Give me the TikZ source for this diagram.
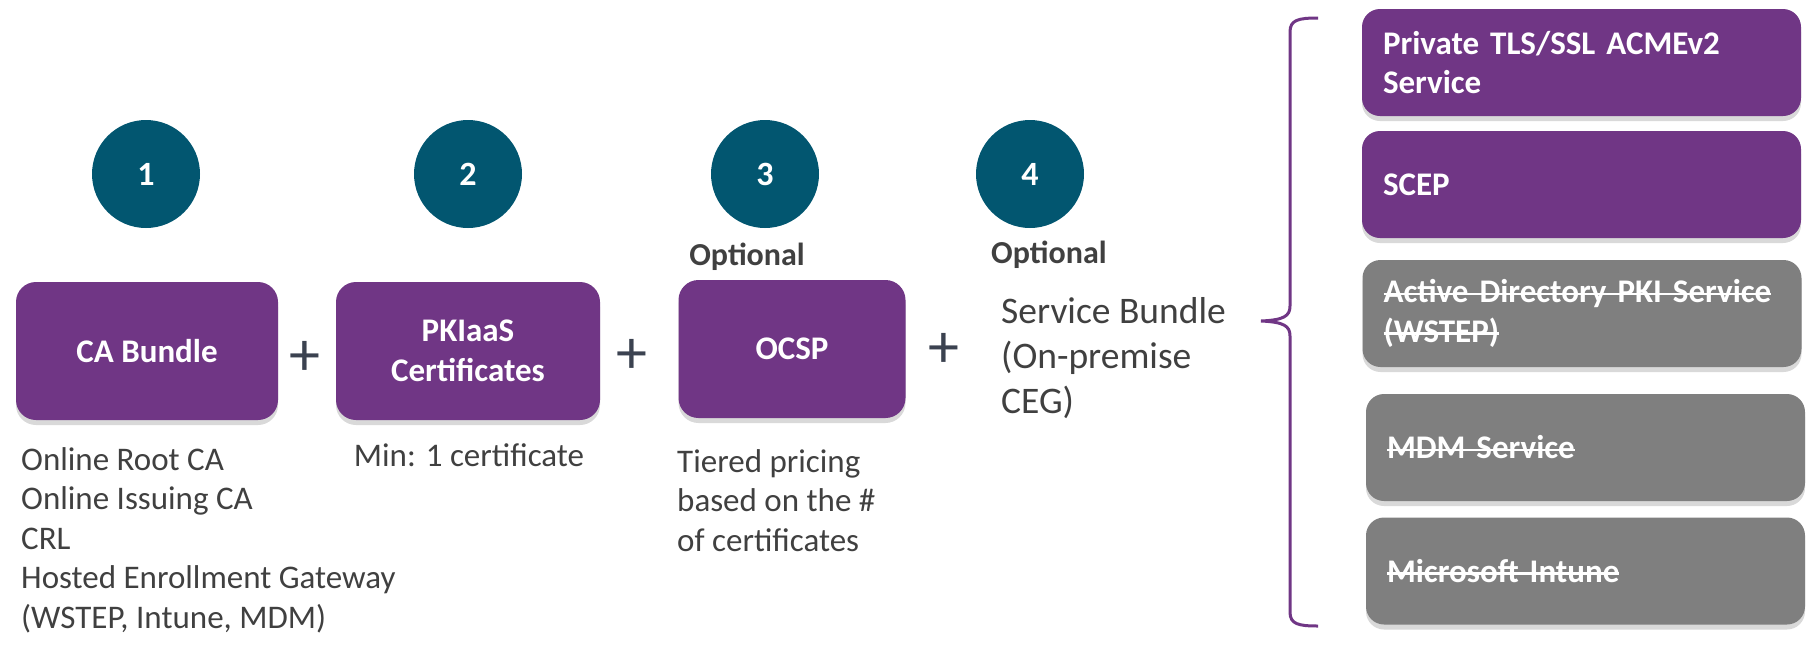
\documentclass[tikz,border=0pt]{standalone}
\usepackage{fontspec}
\setmainfont{Carlito}
\usetikzlibrary{shadows}
\newsavebox{\strkbox}
\newcommand{\strk}[1]{\sbox{\strkbox}{#1}\makebox[0pt][l]{\usebox{\strkbox}}\rule[0.23em]{\wd\strkbox}{2.4pt}}
\definecolor{cpurple}{HTML}{703685}
\definecolor{cteal}{HTML}{025670}
\definecolor{cgray}{HTML}{7F7F7F}
\definecolor{ctext}{HTML}{404040}
\definecolor{cplus}{HTML}{3B4250}
\begin{document}
\begin{tikzpicture}[x=1pt,y=-1pt,
  num/.style={circle, fill=cteal, minimum size=108pt, inner sep=0pt, text=white,
    font=\bfseries\fontsize{34}{40}\selectfont},
  shadowed/.style={drop shadow={shadow xshift=0pt,shadow yshift=-5pt,opacity=0.3}},
  pbox/.style={shadowed, fill=cpurple, rounded corners=20pt, inner sep=0pt, text=white,
    align=center, minimum height=138pt, font=\bfseries\fontsize{33}{39.5}\selectfont},
  rbox/.style={shadowed, rounded corners=18pt, inner xsep=21pt, inner ysep=0pt,
    minimum height=107pt, text width=397pt, align=left, text=white,
    font=\bfseries\fontsize{33}{39.5}\selectfont},
  rpurple/.style={rbox, fill=cpurple},
  rgray/.style={rbox, fill=cgray},
  desc/.style={text=ctext, font=\fontsize{33}{39.5}\selectfont, inner sep=0pt, align=left},
  bigdesc/.style={text=ctext, font=\fontsize{37.5}{45}\selectfont, inner sep=0pt, align=left},
  opt/.style={text=ctext, font=\bfseries\fontsize{32}{38}\selectfont, inner sep=0pt},
  plussign/.style={text=cplus, font=\fontsize{62}{62}\selectfont, inner sep=0pt},
  bracestyle/.style={draw=cpurple, line width=3pt}
]
\useasboundingbox (0,0) rectangle (1816,657);

% numbered circles
\node[num] (n1) at (146,174) {1};
\node[num] (n2) at (468,174) {2};
\node[num] (n3) at (765,174) {3};
\node[num] (n4) at (1030,174) {4};

% optional labels
\node[opt, anchor=base] (opt3) at (747,265) {Optional};
\node[opt, anchor=base west] (opt4) at (991,263) {Optional};

% main boxes
\node[pbox, minimum width=262pt] (ca) at (147,351) {CA Bundle};
\node[pbox, minimum width=264pt] (pki) at (468,351) {PKIaaS\\Certificates};
\node[pbox, minimum width=227pt] (ocsp) at (792,349) {OCSP};

% plus signs
\node[plussign] (p1) at (305,358) {+};
\node[plussign] (p2) at (632,356) {+};
\node[plussign] (p3) at (944,350) {+};

% descriptions
\node[desc, anchor=north west] (d1) at (21,447)
  {Online Root CA\\Online Issuing CA\\CRL\\Hosted Enrollment Gateway\\(WSTEP, Intune, MDM)};
\node[desc, anchor=north] (d2) at (469,443) {Min: 1 certificate};
\node[desc, anchor=north west] (d3) at (677,449) {Tiered pricing\\based on the \#\\of certificates};
\node[bigdesc, anchor=north west] (sb) at (1001,297) {Service Bundle\\(On-premise\\CEG)};

% brace
\draw[bracestyle] (1318,18) .. controls (1298,18) and (1290,20) .. (1290,32)
  -- (1290,306) .. controls (1290,316) and (1284,320) .. (1261,321)
  .. controls (1284,322) and (1290,326) .. (1290,336)
  -- (1290,612) .. controls (1290,624) and (1298,626) .. (1318,626);

% right column
\node[rpurple] (acme) at (1581.5,62.5) {Private TLS/SSL ACMEv2\\Service};
\node[rpurple] (scep) at (1581.5,184.5) {SCEP};
\node[rgray] (adpki) at (1582,313.5) {\strk{Active Directory PKI Service}\\\strk{(WSTEP)}};
\node[rgray] (mdm) at (1585.5,447.5) {\strk{MDM Service}};
\node[rgray] (intune) at (1585.5,571) {\strk{Microsoft Intune}};
\end{tikzpicture}
\end{document}
